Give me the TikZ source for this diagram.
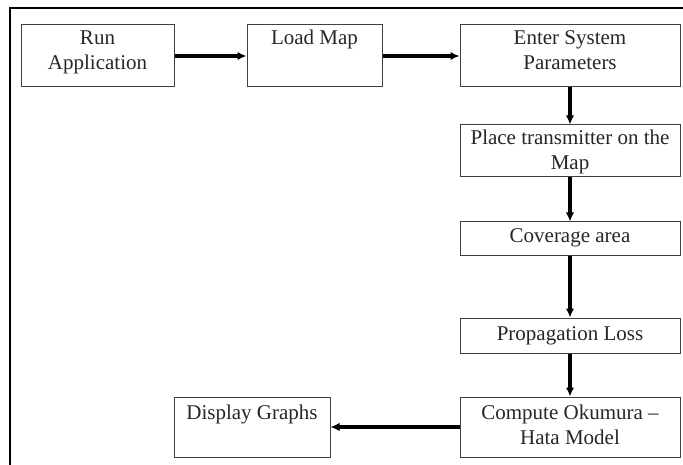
\documentclass[tikz,border=0pt]{standalone}
\usepackage{fontspec}
\setmainfont{Liberation Serif}
\usetikzlibrary{arrows.meta}

\begin{document}
\begin{tikzpicture}[x=1pt,y=-1pt,
		box/.style={draw=black!75, line width=1pt, align=center, inner sep=0pt,
			font=\fontsize{21}{25}\selectfont, text=black!85},
		flow/.style={-{Latex[length=9pt,width=8.5pt]}, line width=3.2pt}]
				\useasboundingbox (0,0) rectangle (683,465);
				
				% Frame
				\draw[line width=2.5pt] (10,466) -- (10,8) -- (684,8);
				
				% Top row
				\node[box, minimum width=153pt, text height=45pt, text depth=17pt] (run) at (97.5,56) {Run\\Application};
				\node[box, minimum width=135pt, text height=20pt, text depth=42pt] (load) at (314.5,56) {Load Map};
				\node[box, minimum width=220pt, text height=45pt, text depth=17pt] (enter) at (570,56) {Enter System\\Parameters};
				
				% Right column
				\node[box, minimum width=220pt, text height=45pt, text depth=7pt] (place) at (570,151) {Place transmitter on the\\Map};
				\node[box, minimum width=220pt, text height=21pt, text depth=13pt] (cover) at (570,239) {Coverage area};
				\node[box, minimum width=220pt, text height=22pt, text depth=13pt] (prop) at (570,335.5) {Propagation Loss};
				\node[box, minimum width=220pt, text height=47pt, text depth=13pt] (comp) at (570,427) {Compute Okumura --\\Hata Model};
				
				% Output
				\node[box, minimum width=156pt, text height=22pt, text depth=38pt] (disp) at (252,427) {Display Graphs};
				
				% Connectors
				\draw[flow] (run) -- (load);
				\draw[flow] (load) -- (enter);
				\draw[flow] (enter) -- (place);
				\draw[flow] (place) -- (cover);
				\draw[flow] (cover) -- (prop);
				\draw[flow] (prop) -- (comp);
				\draw[flow] (comp) -- (disp);
				
			\end{tikzpicture}
\end{document}
